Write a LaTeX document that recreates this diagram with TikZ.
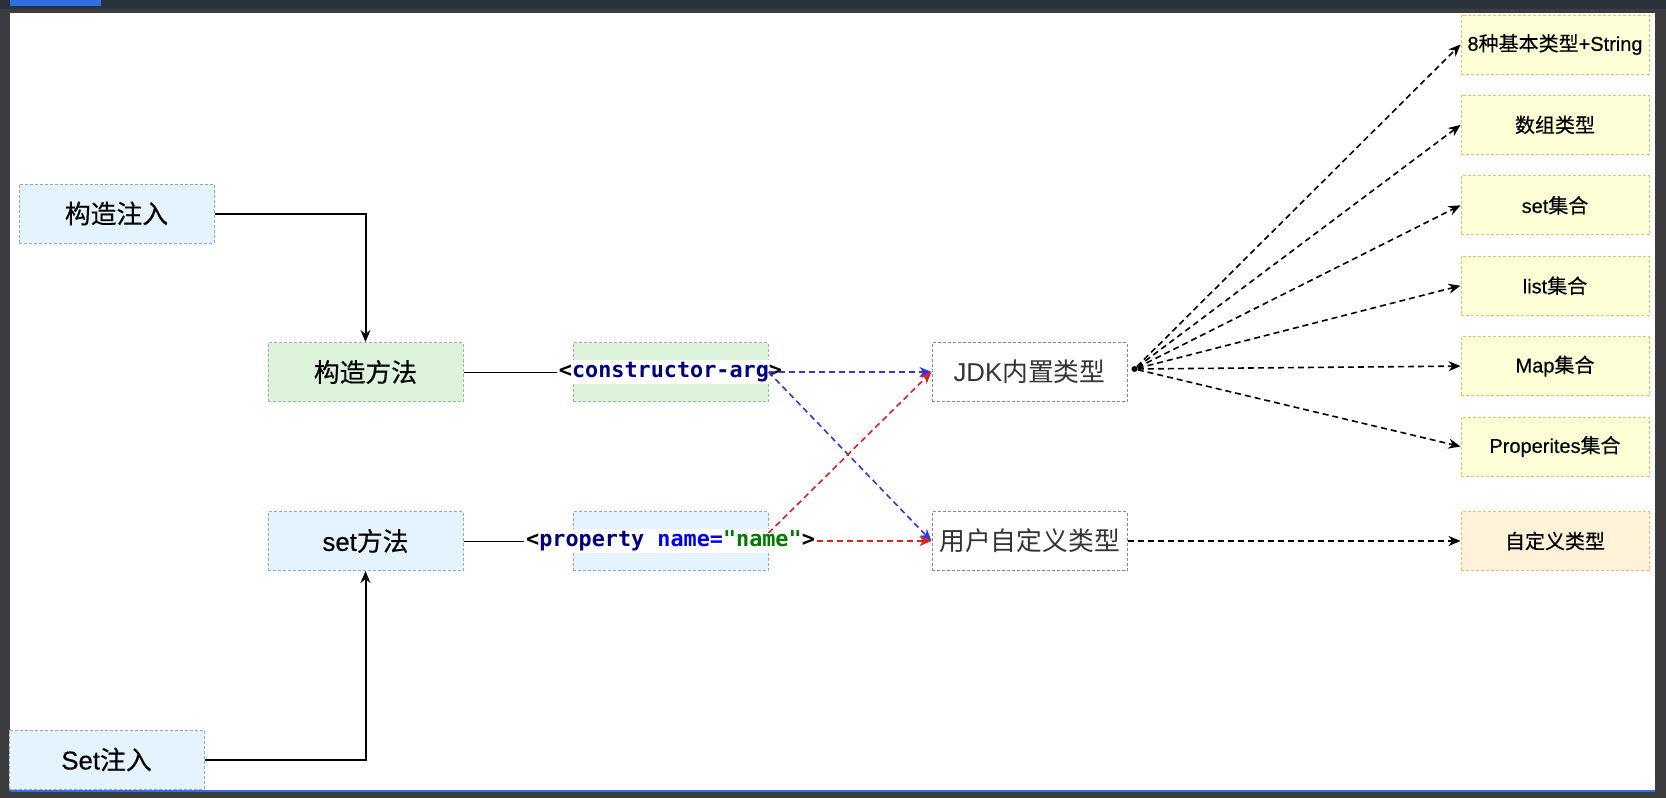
\documentclass[tikz,border=0pt]{standalone}
\usepackage{fontspec}
\setmainfont{Noto Sans CJK SC}[BoldFont={Noto Sans CJK SC}, BoldFeatures={FakeBold=0.4}]
\newfontfamily\lat{Liberation Sans}[BoldFont={Liberation Sans}, BoldFeatures={FakeBold=0.4}]
\setmonofont{DejaVu Sans Mono}
\usepackage{xcolor}
\usetikzlibrary{arrows.meta, positioning, calc}

\definecolor{frameGray}{HTML}{3D3D3F}
\definecolor{barGray}{HTML}{2A323C}
\definecolor{selBlue}{HTML}{2F6FE0}
\definecolor{blueFill}{HTML}{E4F3FE}
\definecolor{blueLine}{HTML}{8EA9CC}
\definecolor{greenFill}{HTML}{DDF3DC}
\definecolor{greenLine}{HTML}{93C08A}
\definecolor{yellowFill}{HTML}{FFFFD7}
\definecolor{orangeFill}{HTML}{FFF2D8}
\definecolor{yellowLine}{HTML}{E0C56A}
\definecolor{typeLine}{HTML}{8A8A8A}
\definecolor{typeText}{HTML}{333333}
\definecolor{tagNavy}{HTML}{000080}
\definecolor{attrBlue}{HTML}{0000EE}
\definecolor{valGreen}{HTML}{007A00}
\definecolor{argBlue}{HTML}{3535D8}
\definecolor{argRed}{HTML}{DD2020}

\begin{document}
\begin{tikzpicture}[
        x=0.5pt, y=-0.5pt,
        box/.style={rectangle, draw, line width=0.5pt, dash pattern=on 1.5pt off 1pt, inner sep=0pt, minimum width=97.5pt, minimum height=29.5pt, align=center},
        bluebox/.style={box, draw=blueLine, fill=blueFill, font=\fontsize{12.9}{14}\selectfont\bfseries},
        greenbox/.style={box, draw=greenLine, fill=greenFill, font=\fontsize{12.9}{14}\selectfont\bfseries},
        typebox/.style={box, draw=typeLine, fill=white, text=typeText, font=\fontsize{12.9}{14}\selectfont},
        leafbox/.style={box, draw=yellowLine, fill=yellowFill, minimum width=94pt, font=\fontsize{10}{12}\selectfont\bfseries},
        codetext/.style={fill=white, inner sep=1pt, font=\fontsize{10.9}{12}\selectfont\ttfamily\bfseries},
        hubdot/.style={circle, fill=black, inner sep=0pt, minimum size=3pt},
        arrowline/.style={-{Stealth[length=6pt, width=5pt]}, line width=1pt},
        thinline/.style={line width=0.5pt},
        dasharrow/.style={-{Stealth[length=6pt, width=5pt]}, line width=0.8pt, dash pattern=on 3pt off 2pt}
    ]
        % window frame and canvas
        \fill[frameGray] (0,0) rectangle (1666,798);
        \fill[barGray] (0,0) rectangle (1666,9);
        \fill[white] (10,13) rectangle (1655,791);
        \fill[selBlue] (10,0) rectangle (101,6);
        \draw[selBlue, line width=1pt] (10,791) -- (1655,791);

        % injection ways
        \node[bluebox] (cinj) at (116.5,213.5) {构造注入};
        \node[bluebox] (sinj) at (106.5,759.5) {{\lat Set}注入};

        % methods and tags
        \node[greenbox] (cmethod) at (365.5,372) {构造方法};
        \node[greenbox, right=54.5pt of cmethod] (carg) {};
        \node[codetext] (cargtext) at (carg) {<\textcolor{tagNavy}{constructor-arg}>};
        \node[bluebox, below=54.5pt of cmethod] (smethod) {{\lat set}方法};
        \node[bluebox, below=54.5pt of carg] (prop) {};
        \node[codetext] (proptext) at (prop) {<\textcolor{tagNavy}{property} \textcolor{attrBlue}{name=}\textcolor{valGreen}{"name"}>};

        % value types
        \node[typebox, right=81.5pt of carg] (jdk) {{\lat JDK}内置类型};
        \node[typebox, below=54.5pt of jdk] (user) {用户自定义类型};
        \node[hubdot] (hub) at ($(jdk.east)+(3.5pt,1.5pt)$) {};

        % right column
        \node[leafbox] (basic) at (1555,44.5) {{\lat 8}种基本类型{\lat +String}};
        \node[leafbox, below=10.2pt of basic] (array) {数组类型};
        \node[leafbox, below=10.2pt of array] (setc) {{\lat set}集合};
        \node[leafbox, below=10.2pt of setc] (listc) {{\lat list}集合};
        \node[leafbox, below=10.2pt of listc] (mapc) {{\lat Map}集合};
        \node[leafbox, below=10.2pt of mapc] (propc) {{\lat Properites}集合};
        \node[leafbox, fill=orangeFill] (custom) at (user -| basic) {自定义类型};

        % connectors
        \draw[arrowline] (cinj.east) -| (cmethod.north);
        \draw[arrowline] (sinj.east) -| (smethod.south);
        \draw[thinline] (cmethod.east) -- (cargtext.west);
        \draw[thinline] (smethod.east) -- (proptext.west);
        \draw[dasharrow, argBlue] (carg.east) -- (jdk.west);
        \draw[dasharrow, argBlue] (carg.east) -- (user.west);
        \draw[dasharrow, argRed] ([yshift=4pt]prop.east) -- (jdk.west);
        \draw[dasharrow, argRed] (proptext.east) -- (user.west);
        \foreach \leaf in {basic, array, setc, listc, mapc, propc}
            \draw[dasharrow] (hub) -- (\leaf.west);
        \draw[dasharrow] (user.east) -- (custom.west);
    \end{tikzpicture}
\end{document}
